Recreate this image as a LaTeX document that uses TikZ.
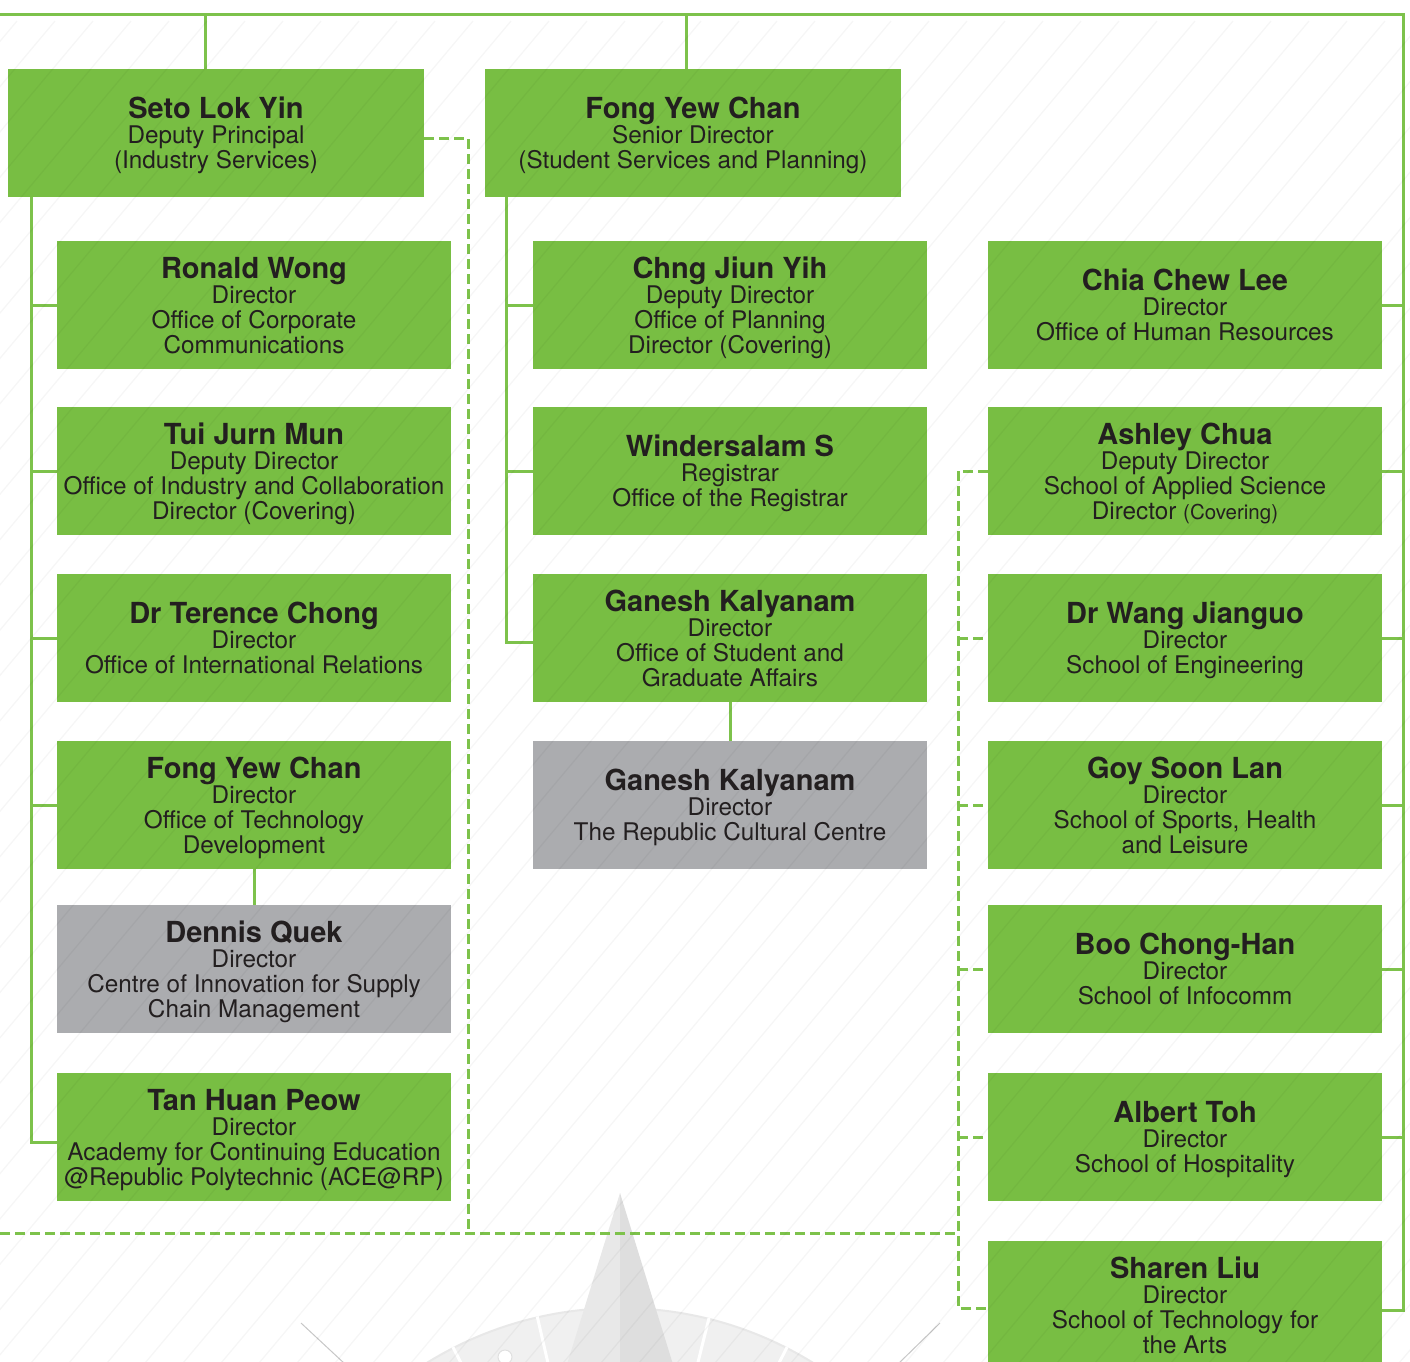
\documentclass[tikz,border=0pt]{standalone}
\usepackage{fontspec}
\setmainfont{TeX Gyre Heros}
\usetikzlibrary{calc}
\definecolor{rpgreen}{HTML}{78BE43}
\definecolor{rpline}{HTML}{7DC24B}
\definecolor{rpgray}{HTML}{ABACAF}
\definecolor{txt}{HTML}{231F20}
\newcommand\rpname[1]{{\fontsize{29}{25}\selectfont\bfseries\rule{0pt}{27.5pt}#1}}
\newcommand\rpsmall[1]{{\fontsize{20.5}{25}\selectfont #1}}
\begin{document}
\begin{tikzpicture}[x=1pt,y=-1pt,
  box/.style={fill=rpgreen, minimum width=394pt, minimum height=128pt, inner sep=0pt,
    align=center, text=txt, font=\fontsize{24.3}{25}\selectfont,
    execute at end node={\rule[-6.5pt]{0pt}{6.5pt}}},
  topbox/.style={box, minimum width=416pt},
  graybox/.style={box, fill=rpgray},
  conn/.style={draw=rpline, line width=3pt},
  dconn/.style={draw=rpline, line width=3pt, dash pattern=on 10pt off 5pt},
  hatch/.style={draw=black, opacity=0.035, line width=1.3pt},
  compassA/.style={fill=black!9},
  compassB/.style={fill=black!13},
]
\useasboundingbox (0,0) rectangle (1410,1361);
\clip (0,0) rectangle (1410,1361);
\fill[white] (0,0) rectangle (1410,1361);

% compass decoration
\fill[black!6] (620,1675) circle (367);
\draw[black!9, line width=2pt] (620,1675) circle (367);
\foreach \a in {63,76,103,117,130} {
  \draw[white, line width=3pt] ($(620,1675)+({cos(\a)*368},{-sin(\a)*368})$) -- ($(620,1675)+({cos(\a)*290},{-sin(\a)*290})$);
}
\draw[black!22, line width=1pt] (301,1323) -- (345,1364);
\draw[black!22, line width=1pt] (940,1323) -- (898,1364);
\draw[black!12, fill=white, line width=1pt] (505,1357) circle (7);
\fill[compassA] (620,1193) -- (556,1400) -- (620,1400) -- cycle;
\fill[compassB] (620,1193) -- (684,1400) -- (620,1400) -- cycle;

% nodes
\node[topbox] (seto)  at (216,133) {\rpname{Seto Lok Yin}\\Deputy Principal\\(Industry Services)};
\node[topbox] (fongt) at (693,133) {\rpname{Fong Yew Chan}\\Senior Director\\(Student Services and Planning)};

\node[box] (ronald)  at (254,305) {\rpname{Ronald Wong}\\Director\\Office of Corporate\\Communications};
\node[box] (tui)     at (254,471) {\rpname{Tui Jurn Mun}\\Deputy Director\\Office of Industry and Collaboration\\Director (Covering)};
\node[box] (terence) at (254,638) {\rpname{Dr Terence Chong}\\Director\\Office of International Relations};
\node[box] (fongd)   at (254,805) {\rpname{Fong Yew Chan}\\Director\\Office of Technology\\Development};
\node[graybox] (dennis) at (254,969) {\rpname{Dennis Quek}\\Director\\Centre of Innovation for Supply\\Chain Management};
\node[box] (tan)     at (254,1137) {\rpname{Tan Huan Peow}\\Director\\Academy for Continuing Education\\@Republic Polytechnic (ACE@RP)};

\node[box] (chng)    at (730,305) {\rpname{Chng Jiun Yih}\\Deputy Director\\Office of Planning\\Director (Covering)};
\node[box] (winder)  at (730,471) {\rpname{Windersalam S}\\Registrar\\Office of the Registrar};
\node[box] (ganesho) at (730,638) {\rpname{Ganesh Kalyanam}\\Director\\Office of Student and\\Graduate Affairs};
\node[graybox] (ganeshc) at (730,805) {\rpname{Ganesh Kalyanam}\\Director\\The Republic Cultural Centre};

\node[box] (chia)    at (1185,305) {\rpname{Chia Chew Lee}\\Director\\Office of Human Resources};
\node[box] (ashley)  at (1185,471) {\rpname{Ashley Chua}\\Deputy Director\\School of Applied Science\\Director \rpsmall{(Covering)}};
\node[box] (wang)    at (1185,638) {\rpname{Dr Wang Jianguo}\\Director\\School of Engineering};
\node[box] (goy)     at (1185,805) {\rpname{Goy Soon Lan}\\Director\\School of Sports, Health\\and Leisure};
\node[box] (boo)     at (1185,969) {\rpname{Boo Chong-Han}\\Director\\School of Infocomm};
\node[box] (albert)  at (1185,1137) {\rpname{Albert Toh}\\Director\\School of Hospitality};
\node[box] (sharen)  at (1185,1305) {\rpname{Sharen Liu}\\Director\\School of Technology for\\the Arts};

% solid connectors
\coordinate (topL) at (0,14);
\coordinate (topR) at (1403,14);
\coordinate (sv) at (205,14);
\coordinate (fv) at (686,14);
\coordinate (ls) at (31,0);
\coordinate (ms) at (506,0);
\draw[conn] (topL) -- (topR) |- ($(sharen.east)+(0,5)$);
\draw[conn] (sv) -- (sv |- seto.north);
\draw[conn] (fv) -- (fv |- fongt.north);
\draw[conn] (ls |- seto.south) |- ($(tan.west)+(0,5)$);
\foreach \n in {ronald,tui,terence,fongd} \draw[conn] (ls |- \n.west) -- (\n.west);
\draw[conn] (ms |- fongt.south) |- ($(ganesho.west)+(0,4)$);
\foreach \n in {chng,winder} \draw[conn] (ms |- \n.west) -- (\n.west);
\foreach \n in {chia,ashley,wang,goy,boo,albert} \draw[conn] (\n.east) -- (\n.east -| topR);
\draw[conn] (fongd.south) -- (dennis.north);
\draw[conn] (ganesho.south) -- (ganeshc.north);

% dashed connectors
\coordinate (dl) at (468,1233);
\coordinate (dr) at (958,1233);
\coordinate (d0) at (0,1233);
\draw[dconn] ($(seto.east)+(0,5)$) -| (dl);
\draw[dconn] (d0) -- (dr);
\draw[dconn] (ashley.west) -- (ashley.west -| dr) -- ($(dr |- sharen.west)+(0,3)$) -- ($(sharen.west)+(0,3)$);
\foreach \n in {wang,goy,boo,albert} \draw[dconn] (\n.west -| dr) -- (\n.west);

% faint background hatching
\foreach \i in {-32,...,38} {
  \draw[hatch] ({\i*38},1400) -- ++(1157,-1379);
}
\end{tikzpicture}
\end{document}
